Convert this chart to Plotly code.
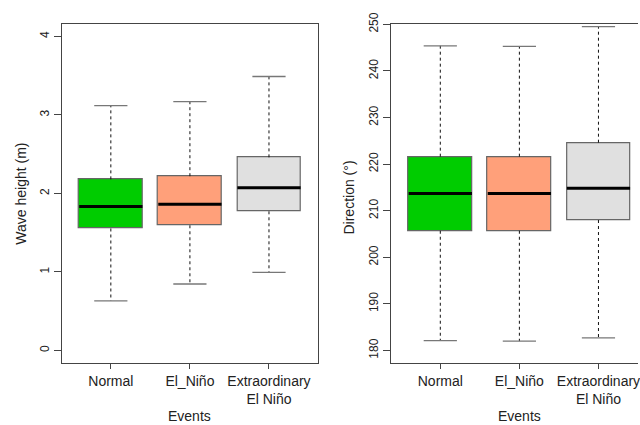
import plotly.graph_objects as go

categories = ["Normal", "El_Niño", "Extraordinary<br>El Niño"]
positions = [1, 2, 3]
colors = ["#00CC00", "#FFA07A", "#E0E0E0"]

# Wave height (m)
wh_lower = [0.632, 0.847, 0.996]
wh_q1 = [1.554, 1.595, 1.773]
wh_median = [1.835, 1.864, 2.074]
wh_q3 = [2.180, 2.220, 2.460]
wh_upper = [3.120, 3.170, 3.490]

# Direction (deg)
dir_lower = [182.1, 182.0, 182.7]
dir_q1 = [205.7, 205.7, 208.0]
dir_median = [213.7, 213.7, 214.8]
dir_q3 = [221.6, 221.6, 224.6]
dir_upper = [245.4, 245.3, 249.5]

wh_ticks = [0, 1, 2, 3, 4]
dir_ticks = [180, 190, 200, 210, 220, 230, 240, 250]

BOXW = 0.8
CAPW = 0.42
FONT = "Liberation Sans, Arial, sans-serif"
TXT = "#222222"

fig = go.Figure()


def add_panel(xa, ya, lower, q1, med, q3, upper):
    # boxes
    fig.add_trace(go.Bar(
        x=positions, y=[b - a for a, b in zip(q1, q3)], base=q1,
        width=BOXW, marker=dict(color=colors, line=dict(color="#666666", width=1.2)),
        xaxis=xa, yaxis=ya, showlegend=False, hoverinfo="skip"))
    # dashed whiskers
    wx, wy = [], []
    for p, lo, a, b, hi in zip(positions, lower, q1, q3, upper):
        wx += [p, p, None, p, p, None]
        wy += [b, hi, None, a, lo, None]
    fig.add_trace(go.Scatter(x=wx, y=wy, mode="lines",
                             line=dict(color="#111111", width=1, dash="3px,3px"),
                             xaxis=xa, yaxis=ya, showlegend=False, hoverinfo="skip"))
    # caps
    cx, cy = [], []
    for p, lo, hi in zip(positions, lower, upper):
        cx += [p - CAPW / 2, p + CAPW / 2, None, p - CAPW / 2, p + CAPW / 2, None]
        cy += [hi, hi, None, lo, lo, None]
    fig.add_trace(go.Scatter(x=cx, y=cy, mode="lines",
                             line=dict(color="#777777", width=1.3),
                             xaxis=xa, yaxis=ya, showlegend=False, hoverinfo="skip"))
    # medians
    mx, my = [], []
    for p, m in zip(positions, med):
        mx += [p - BOXW / 2, p + BOXW / 2, None]
        my += [m, m, None]
    fig.add_trace(go.Scatter(x=mx, y=my, mode="lines",
                             line=dict(color="#000000", width=3),
                             xaxis=xa, yaxis=ya, showlegend=False, hoverinfo="skip"))


add_panel("x", "y", wh_lower, wh_q1, wh_median, wh_q3, wh_upper)
add_panel("x2", "y2", dir_lower, dir_q1, dir_median, dir_q3, dir_upper)

W, H = 640, 425
top_px, bot_px = 12.5, 361
ydom = [1 - bot_px / H, 1 - top_px / H]

axis_common = dict(showgrid=False, zeroline=False, showline=True, linecolor="#444444",
                   linewidth=1, ticks="outside", tickcolor="#444444", ticklen=7,
                   tickfont=dict(family=FONT, size=12, color=TXT))
xaxis_common = {**axis_common, "ticklen": 5, "ticklabeloverflow": "allow",
                "tickfont": dict(family=FONT, size=14, color=TXT)}

fig.update_layout(
    width=W, height=H, margin=dict(l=0, r=0, t=0, b=0),
    paper_bgcolor="white", plot_bgcolor="white", bargap=0,
    xaxis=dict(domain=[62 / W, 319 / W], range=[0.38, 3.62], mirror=True,
               tickvals=positions, ticktext=categories, **xaxis_common),
    yaxis=dict(domain=ydom, range=[-0.157, 4.157], mirror=True,
               tickvals=wh_ticks, tickangle=-90, **axis_common),
    xaxis2=dict(domain=[392.5 / W, 1.0], range=[0.38, 3.50], mirror=True, anchor="y2",
                tickvals=positions, ticktext=categories, **xaxis_common),
    yaxis2=dict(domain=ydom, range=[177.35, 250.05], mirror=False, anchor="x2",
                tickvals=dir_ticks, tickangle=-90, **axis_common),
)

ann = dict(showarrow=False, font=dict(family=FONT, size=14, color=TXT),
           xref="paper", yref="paper")
fig.add_annotation(text="Events", x=(62 + 319) / 2 / W, y=1 - 416 / H, xanchor="center", yanchor="middle", **ann)
fig.add_annotation(text="Events", x=521 / W, y=1 - 416 / H, xanchor="center", yanchor="middle", **ann)
fig.add_annotation(text="Wave height (m)", x=21 / W, y=1 - 187 / H, textangle=-90,
                   xanchor="center", yanchor="middle", **ann)
fig.add_annotation(text="Direction (°)", x=350 / W, y=1 - 191 / H, textangle=-90,
                   xanchor="center", yanchor="middle", **ann)

fig.write_html("out.html")
